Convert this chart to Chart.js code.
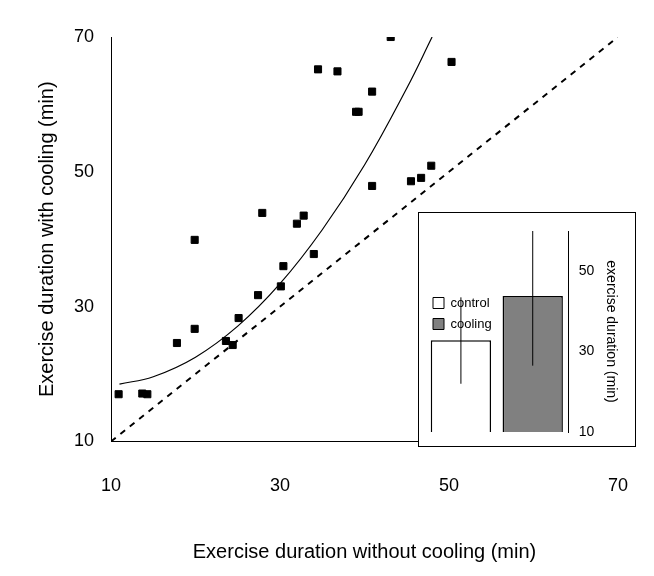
<!DOCTYPE html>
<html>
<head>
<meta charset="UTF-8" />
<script src="https://cdn.jsdelivr.net/npm/chart.js"></script>
<style>
  body { margin: 0; background: #fff; }
  #wrap { position: relative; width: 654px; height: 576px; }
  #main { position: absolute; left: 0; top: 0; }
  #inset { position: absolute; left: 418px; top: 212px; width: 218px; height: 235px; border: 1px solid #000; box-sizing: border-box; background: #fff; }
</style>
</head>
<body>
<div id="wrap">
  <canvas id="main" width="654" height="576"></canvas>
  <div id="inset"><canvas id="insetChart" width="216" height="233"></canvas></div>
</div>
<script>
  Chart.defaults.font.family = 'Liberation Sans, Arial, sans-serif';
  Chart.defaults.color = '#000';

  const points = [
    [10.9, 17.0], [13.7, 17.1], [14.3, 17.0], [17.8, 24.6], [19.9, 39.9], [19.9, 26.7],
    [23.6, 24.9], [24.4, 24.3], [25.1, 28.3], [27.4, 31.7], [27.9, 43.9], [30.1, 33.0],
    [30.4, 36.0], [32.0, 42.3], [32.8, 43.5], [34.0, 37.8], [34.5, 65.2], [36.8, 64.9],
    [39.0, 58.9], [39.3, 58.9], [40.9, 61.9], [40.9, 47.9], [43.1, 70.0], [45.5, 48.6],
    [46.7, 49.1], [47.9, 50.9], [50.3, 66.3]
  ];
  const fit = [
    [11, 18.5], [15, 19.6], [20, 22.5], [25, 27.1], [30, 33.4],
    [35, 41.4], [40, 51.0], [45, 62.4], [48, 70.0]
  ];
  const identity = [[10, 10], [70, 70]];
  const xy = arr => arr.map(p => ({ x: p[0], y: p[1] }));

  new Chart(document.getElementById('main'), {
    type: 'scatter',
    data: {
      datasets: [
        { data: xy(points), pointStyle: 'rect', pointRadius: 5, backgroundColor: '#000', borderColor: '#000', showLine: false },
        { data: xy(fit), showLine: true, borderColor: '#000', borderWidth: 1.2, pointRadius: 0, tension: 0.4 },
        { data: xy(identity), showLine: true, borderColor: '#000', borderWidth: 2, borderDash: [6, 6], pointRadius: 0 }
      ]
    },
    options: {
      responsive: false,
      animation: false,
      layout: { padding: { top: 37, right: 29, left: 31, bottom: 8 } },
      plugins: { legend: { display: false }, tooltip: { enabled: false } },
      scales: {
        x: {
          type: 'linear', min: 10, max: 70,
          ticks: { stepSize: 20, font: { size: 18 }, padding: 26 },
          grid: { display: false, tickLength: 8 },
          border: { color: '#000', width: 1 },
          title: { display: true, text: 'Exercise duration without cooling (min)', font: { size: 20 }, padding: { top: 17 } }
        },
        y: {
          type: 'linear', min: 10, max: 70,
          ticks: { stepSize: 20, font: { size: 18 }, padding: 9 },
          grid: { display: false, tickLength: 8 },
          border: { color: '#000', width: 1 },
          title: { display: true, text: 'Exercise duration with cooling (min)', font: { size: 20 }, padding: { bottom: 6 } }
        }
      }
    }
  });

  const groups = ['control', 'cooling'];
  const means = [32.8, 43.8];
  const errLow = [22.0, 26.5];
  const errHigh = [43.5, 60.5];

  const errorBars = {
    id: 'errorBars',
    afterDatasetsDraw(chart) {
      const ctx = chart.ctx, y = chart.scales.y, top = chart.chartArea.top;
      chart.getDatasetMeta(0).data.forEach((bar, i) => {
        ctx.save();
        ctx.strokeStyle = '#000';
        ctx.lineWidth = 1;
        ctx.beginPath();
        ctx.moveTo(bar.x, Math.max(top, y.getPixelForValue(errHigh[i])));
        ctx.lineTo(bar.x, y.getPixelForValue(errLow[i]));
        ctx.stroke();
        ctx.restore();
      });
    }
  };

  new Chart(document.getElementById('insetChart'), {
    type: 'bar',
    data: {
      labels: groups,
      datasets: [{
        data: means,
        backgroundColor: ['#fff', '#808080'],
        borderColor: '#000',
        borderWidth: 1.5,
        categoryPercentage: 1.0,
        barPercentage: 0.84
      }]
    },
    plugins: [errorBars],
    options: {
      responsive: false,
      animation: false,
      layout: { padding: { top: 18, left: 6, right: 12, bottom: 14 } },
      plugins: {
        legend: {
          display: true, position: 'chartArea', align: 'center',
          labels: {
            generateLabels: () => groups.map((g, i) => ({
              text: g, fillStyle: ['#fff', '#808080'][i], strokeStyle: '#000', lineWidth: 1
            })),
            boxWidth: 11, boxHeight: 11, font: { size: 13 }, padding: 8
          }
        },
        tooltip: { enabled: false }
      },
      scales: {
        x: { display: false },
        y: {
          position: 'right', min: 10, max: 60,
          afterBuildTicks: s => { s.ticks = [10, 30, 50].map(v => ({ value: v })); },
          ticks: { font: { size: 14 }, padding: 4 },
          grid: { display: false, tickLength: 6 },
          border: { color: '#000' },
          title: { display: true, text: 'exercise duration (min)', font: { size: 14 } }
        }
      }
    }
  });
</script>
</body>
</html>
